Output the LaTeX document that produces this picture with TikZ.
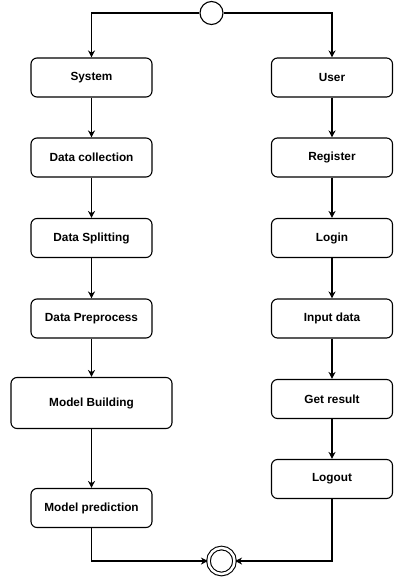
\documentclass[tikz,border=0pt]{standalone}
\usepackage{fontspec}
\setmainfont{Liberation Sans}
\usetikzlibrary{arrows.meta}
\begin{document}
\begin{tikzpicture}[x=1pt,y=-1pt,
  box/.style={draw, line width=1.1pt, rounded corners=6pt, minimum width=121pt, minimum height=39pt, font=\fontsize{11.8}{14}\selectfont\bfseries, inner sep=0pt},
  conn/.style={draw, line width=1.1pt, -{Stealth[length=7pt,width=7pt]}},
  startc/.style={draw, line width=1.1pt, circle, minimum size=23pt, inner sep=0pt},
  endc/.style={draw, line width=1.1pt, circle, double, double distance=2.5pt, minimum size=26pt, inner sep=0pt}]
\useasboundingbox (0,0) rectangle (413,581);
\node[startc] (s) at (211.5,13) {};
% left column
\node[box] (sys) at (91.5,77.5) {System};
\node[box] (dc) at (91.5,157.5) {Data collection};
\node[box] (ds) at (91.5,238) {Data Splitting};
\node[box] (dp) at (91.5,318.5) {Data Preprocess};
\node[box, minimum width=161pt, minimum height=51pt] (mb) at (91.5,403) {Model Building};
\node[box] (mp) at (91.5,508) {Model prediction};
% right column
\node[box] (us) at (332,77.5) {User};
\node[box] (rg) at (332,157.5) {Register};
\node[box] (lg) at (332,238) {Login};
\node[box] (id) at (332,318.5) {Input data};
\node[box] (gr) at (332,399) {Get result};
\node[box] (lo) at (332,479) {Logout};
\node[endc] (e) at (221.5,561) {};
\draw[conn] (s.west) -| (sys.north);
\draw[conn] (s.east) -| (us.north);
\draw[conn] (sys) -- (dc);
\draw[conn] (dc) -- (ds);
\draw[conn] (ds) -- (dp);
\draw[conn] (dp) -- (mb);
\draw[conn] (mb) -- (mp);
\draw[conn] (us) -- (rg);
\draw[conn] (rg) -- (lg);
\draw[conn] (lg) -- (id);
\draw[conn] (id) -- (gr);
\draw[conn] (gr) -- (lo);
\draw[conn] (mp.south) |- (e.west);
\draw[conn] (lo.south) |- (e.east);
\end{tikzpicture}
\end{document}
